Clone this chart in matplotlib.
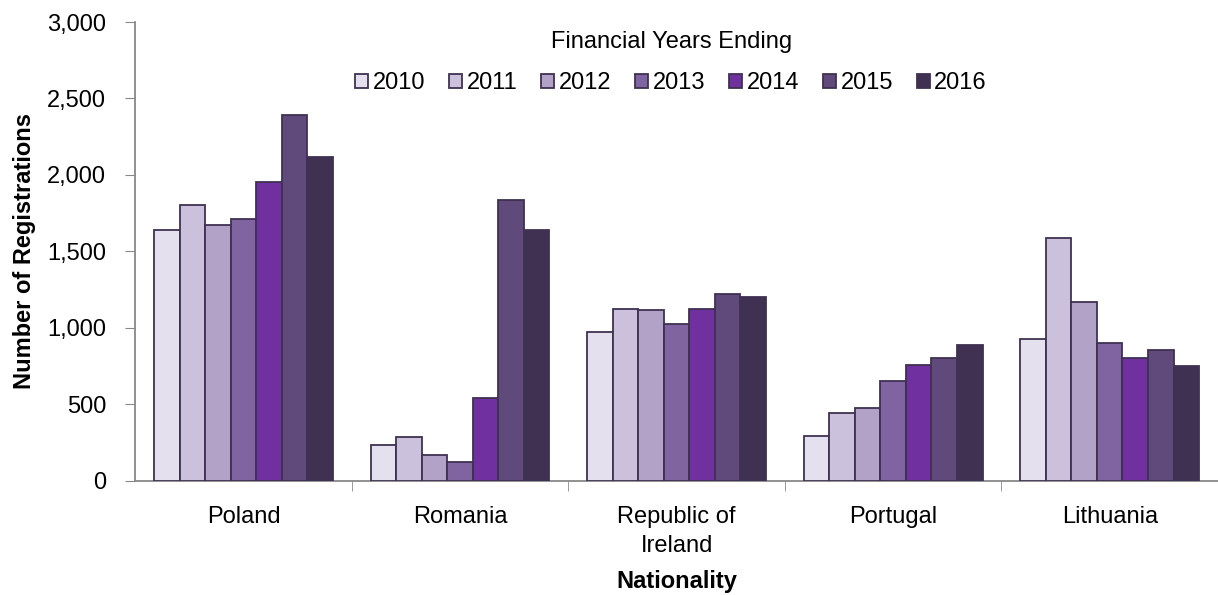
import matplotlib.pyplot as plt
import numpy as np
from matplotlib.ticker import FuncFormatter

plt.rcParams['font.family'] = ['Liberation Sans', 'DejaVu Sans']

nationalities = ['Poland', 'Romania', 'Republic of\nIreland', 'Portugal', 'Lithuania']
years = ['2010', '2011', '2012', '2013', '2014', '2015', '2016']
registrations = {
    '2010': [1640, 235, 975, 290, 925],
    '2011': [1805, 288, 1124, 444, 1588],
    '2012': [1670, 170, 1115, 475, 1170],
    '2013': [1715, 124, 1025, 650, 900],
    '2014': [1955, 540, 1125, 755, 800],
    '2015': [2390, 1835, 1222, 800, 855],
    '2016': [2115, 1640, 1200, 885, 750],
}
colors = ['#E5E0EE', '#CBC1DC', '#B2A2C8', '#8064A2', '#7030A0', '#604A7B', '#403152']

fig = plt.figure(figsize=(12.18, 5.95), dpi=100)
ax = fig.add_axes([0.111, 0.192, 0.889, 0.771])

x = np.arange(len(nationalities))
width = 0.118
for i, year in enumerate(years):
    offset = (i - 3) * width
    ax.bar(x + offset, registrations[year], width, color=colors[i],
           edgecolor='#3F3151', linewidth=1.3, label=year, zorder=3)

ax.set_xlim(-0.5, len(nationalities) - 0.5)
ax.set_ylim(0, 3000)
ax.set_yticks(np.arange(0, 3001, 500))
ax.yaxis.set_major_formatter(FuncFormatter(lambda v, p: f'{int(v):,}'))

ax.set_xticks(x)
ax.set_xticklabels(nationalities, fontsize=17, linespacing=1.4)
ax.set_xticks(np.arange(0.5, len(nationalities) - 0.5, 1), minor=True)
ax.tick_params(axis='x', which='major', length=0, pad=18)
ax.tick_params(axis='x', which='minor', length=7, color='#888888', direction='out')
ax.tick_params(axis='y', length=7, color='#888888', labelsize=17, pad=14)

for side in ['top', 'right']:
    ax.spines[side].set_visible(False)
for side in ['left', 'bottom']:
    ax.spines[side].set_color('#888888')
    ax.spines[side].set_linewidth(1.3)

ax.set_ylabel('Number of Registrations', fontsize=17, fontweight='bold', labelpad=8)
ax.set_xlabel('Nationality', fontsize=17, fontweight='bold', labelpad=10)

leg = ax.legend(ncol=7, loc='upper center', bbox_to_anchor=(0.495, 1.027),
                frameon=False, fontsize=17, title='Financial Years Ending',
                title_fontsize=17, handlelength=0.55, handleheight=0.55,
                handletextpad=0.2, columnspacing=1.0, labelspacing=0.3)
leg._legend_box.sep = 14

fig.savefig('out.png', dpi=100)
